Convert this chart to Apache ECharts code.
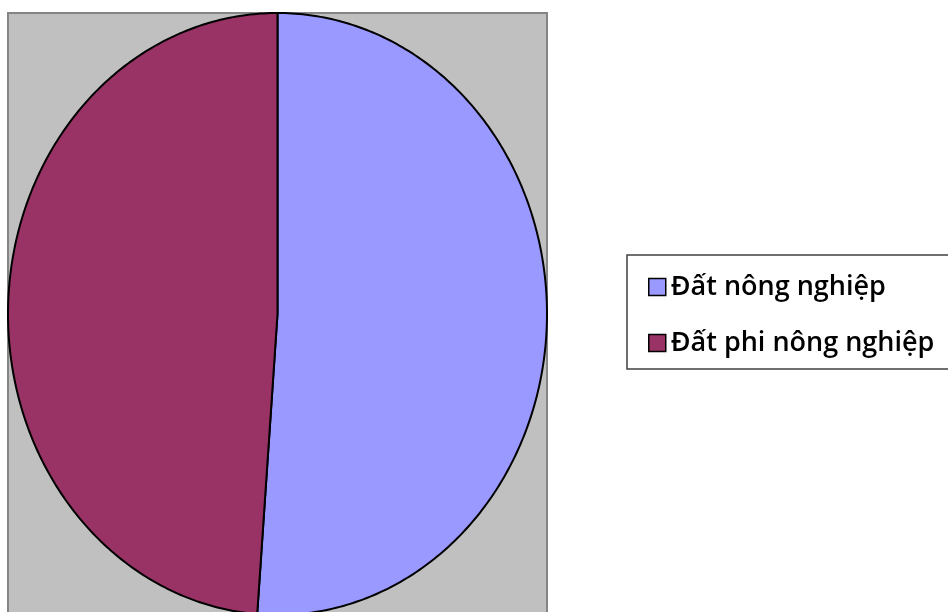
<!DOCTYPE html>
<html>
<head>
<meta charset="utf-8">
<style>
  html, body { margin: 0; padding: 0; background: #ffffff; }
  #chart { width: 948px; height: 612px; }
</style>
<script src="https://cdn.jsdelivr.net/npm/echarts@6/dist/echarts.min.js"></script>
</head>
<body>
<div id="chart"></div>
<script>
// Land use shares (%)
const categories = ['Đất nông nghiệp', 'Đất phi nông nghiệp'];
const shares = [51.2, 48.8];
const colors = ['#9999ff', '#993366'];

const total = shares.reduce((a, b) => a + b, 0);

// Draws one slice as a polygon in the unit square of the grid; the grid is
// taller than wide, so the pie comes out as an upright ellipse.
function sliceRenderer(idx) {
  return function (params, api) {
    let before = 0;
    for (let i = 0; i < idx; i++) before += shares[i];
    const a0 = before / total * Math.PI * 2;
    const a1 = (before + api.value(2)) / total * Math.PI * 2;
    const pts = [api.coord([0, 0])];
    const n = 240;
    for (let k = 0; k <= n; k++) {
      const t = a0 + (a1 - a0) * k / n;
      pts.push(api.coord([Math.sin(t), Math.cos(t)]));
    }
    return {
      type: 'polygon',
      shape: { points: pts },
      style: { fill: colors[idx], stroke: '#000000', lineWidth: 2, lineJoin: 'round' }
    };
  };
}

const chart = echarts.init(document.getElementById('chart'));
chart.setOption({
  animation: false,
  grid: {
    show: true,
    outerBoundsMode: 'none',
    left: 8, top: 13, width: 539, height: 602,
    backgroundColor: '#c0c0c0',
    borderColor: '#858585',
    borderWidth: 2
  },
  xAxis: { type: 'value', min: -1, max: 1, show: false },
  yAxis: { type: 'value', min: -1, max: 1, show: false },
  legend: {
    orient: 'vertical',
    left: 627, top: 255,
    padding: [17, 60, 11, 21],
    borderColor: '#404040',
    borderWidth: 1.5,
    backgroundColor: '#ffffff',
    itemWidth: 17, itemHeight: 17,
    itemGap: 26,
    icon: 'rect',
    itemStyle: { borderColor: '#000000', borderWidth: 1.5 },
    textStyle: {
      fontFamily: 'Open Sans', fontWeight: 600, fontSize: 27,
      color: '#000000', lineHeight: 30
    },
    data: categories
  },
  series: categories.map((name, i) => ({
    type: 'custom',
    name: name,
    coordinateSystem: 'cartesian2d',
    itemStyle: { color: colors[i] },
    renderItem: sliceRenderer(i),
    encode: { x: 0, y: 1 },
    data: [[0, 0, shares[i]]]
  }))
});
</script>
</body>
</html>
